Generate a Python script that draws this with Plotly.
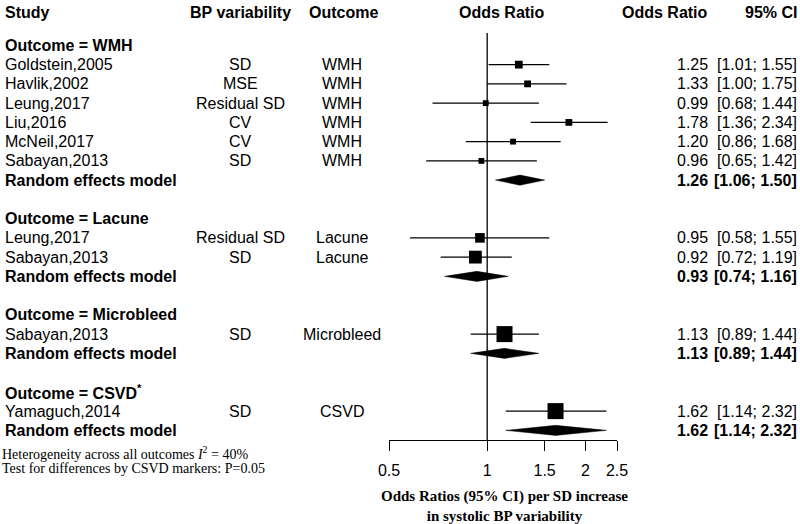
import math
import plotly.graph_objects as go

# ---------------- data ----------------
groups = ["WMH", "Lacune", "Microbleed", "CSVD"]
group_labels = ["Outcome = WMH", "Outcome = Lacune", "Outcome = Microbleed", "Outcome = CSVD<sup>*</sup>"]
study_group = ["WMH"] * 6 + ["Lacune"] * 2 + ["Microbleed"] + ["CSVD"]
studies = ["Goldstein,2005", "Havlik,2002", "Leung,2017", "Liu,2016", "McNeil,2017",
           "Sabayan,2013", "Leung,2017", "Sabayan,2013", "Sabayan,2013", "Yamaguch,2014"]
bp_var = ["SD", "MSE", "Residual SD", "CV", "CV", "SD", "Residual SD", "SD", "SD", "SD"]
outcome = ["WMH"] * 6 + ["Lacune"] * 2 + ["Microbleed"] + ["CSVD"]
or_est = [1.25, 1.33, 0.99, 1.78, 1.20, 0.96, 0.95, 0.92, 1.13, 1.62]
ci_lo = [1.01, 1.00, 0.68, 1.36, 0.86, 0.65, 0.58, 0.72, 0.89, 1.14]
ci_hi = [1.55, 1.75, 1.44, 2.34, 1.68, 1.42, 1.55, 1.19, 1.44, 2.32]
weights = [23.7, 18.1, 13.3, 18.1, 13.3, 13.3, 36.0, 64.0, 100.0, 100.0]  # within-group weight (%)
pooled_est = [1.26, 0.93, 1.13, 1.62]
pooled_lo = [1.06, 0.74, 0.89, 1.14]
pooled_hi = [1.50, 1.16, 1.44, 2.32]
tick_vals = [0.5, 1, 1.5, 2, 2.5]
tick_text = ["0.5", "1", "1.5", "2", "2.5"]
heterogeneity = "Heterogeneity across all outcomes <i>I</i><sup>2</sup> = 40%"
test_text = "Test for differences by CSVD markers: P=0.05"
x_title = "<b>Odds Ratios (95% CI) per SD increase<br>in systolic BP variability</b>"

# ---------------- row layout ----------------
ROW_PX = 19.25
TOP_OFF = 2.357
W = 800.0
PLOT_H = 440.0

def row_of_px(py):
    return py / ROW_PX - TOP_OFF

def px(x):
    return x / W

def py_paper(py):
    return 1 - py / PLOT_H

rows_study, rows_header, rows_pool = [], [], []
r = 0
for g in groups:
    rows_header.append(r)
    r += 1
    for i, sg in enumerate(study_group):
        if sg == g:
            rows_study.append(r)
            r += 1
    rows_pool.append(r)
    r += 2

SANS = "Liberation Sans, Arial, sans-serif"
SERIF = "Liberation Serif, Times New Roman, serif"
F = dict(family=SANS, size=16, color="black")

fig = go.Figure()

# reference line at OR = 1
fig.add_trace(go.Scatter(x=[1, 1], y=[row_of_px(33), rows_pool[-1] + 0.5], mode="lines",
                         line=dict(color="black", width=1.3), hoverinfo="skip", showlegend=False))

# CI lines
for i in range(len(studies)):
    fig.add_trace(go.Scatter(x=[ci_lo[i], ci_hi[i]], y=[rows_study[i]] * 2, mode="lines",
                             line=dict(color="black", width=1.3), hoverinfo="skip", showlegend=False))

# study squares
fig.add_trace(go.Scatter(x=or_est, y=rows_study, mode="markers",
                         marker=dict(symbol="square", color="black", opacity=1,
                                     size=[1.6 * math.sqrt(w) for w in weights],
                                     line=dict(width=0)),
                         hoverinfo="skip", showlegend=False))

# pooled diamonds
H = 0.26
for k in range(len(groups)):
    yr = rows_pool[k]
    fig.add_trace(go.Scatter(x=[pooled_lo[k], pooled_est[k], pooled_hi[k], pooled_est[k], pooled_lo[k]],
                             y=[yr, yr - H, yr, yr + H, yr], mode="lines", fill="toself",
                             fillcolor="black", line=dict(color="black", width=0.5),
                             hoverinfo="skip", showlegend=False))

ann = []
def add(text, x, y, xanchor="left", font=F, yref="y"):
    ann.append(dict(text=text, x=x, y=y, xref="paper", yref=yref, xanchor=xanchor,
                    yanchor="middle", showarrow=False, font=font))

hdr_y = row_of_px(12)
add("<b>Study</b>", px(3), hdr_y)
add("<b>BP variability</b>", px(240), hdr_y, "center")
add("<b>Outcome</b>", px(343), hdr_y, "center")
add("<b>Odds Ratio</b>", px(502), hdr_y, "center")
add("<b>Odds Ratio</b>", px(710), hdr_y, "right")
add("<b>95% CI</b>", px(799), hdr_y, "right")

for k, g in enumerate(groups):
    add("<b>" + group_labels[k] + "</b>", px(3), rows_header[k])
    add("<b>Random effects model</b>", px(3), rows_pool[k])
    add("<b>%.2f</b>" % pooled_est[k], px(710), rows_pool[k], "right")
    add("<b>[%.2f; %.2f]</b>" % (pooled_lo[k], pooled_hi[k]), px(799), rows_pool[k], "right")

for i in range(len(studies)):
    yr = rows_study[i]
    add(studies[i], px(3), yr)
    add(bp_var[i], px(240), yr, "center")
    add(outcome[i], px(342), yr, "center")
    add("%.2f" % or_est[i], px(710), yr, "right")
    add("[%.2f; %.2f]" % (ci_lo[i], ci_hi[i]), px(799), yr, "right")

SF = dict(family=SERIF, size=14, color="black")
add(heterogeneity, px(0), py_paper(453), font=SF, yref="paper")
add(test_text, px(0), py_paper(468), font=SF, yref="paper")
add(x_title, px(504), py_paper(506), "center",
    font=dict(family=SERIF, size=15, color="black"), yref="paper")

fig.update_layout(
    width=800, height=524,
    margin=dict(l=0, r=0, t=0, b=84, pad=0, autoexpand=False),
    paper_bgcolor="white", plot_bgcolor="white",
    annotations=ann,
    xaxis=dict(type="log", domain=[389 / W, 617 / W],
               range=[math.log10(0.5), math.log10(2.5)],
               showline=True, linecolor="black", linewidth=1,
               ticks="outside", ticklen=10, tickwidth=1, tickcolor="black",
               tickvals=tick_vals, ticktext=tick_text,
               tickfont=dict(family=SANS, size=16, color="black"),
               ticklabelstandoff=6, automargin=False,
               showgrid=False, zeroline=False, fixedrange=True),
    yaxis=dict(range=[rows_pool[-1] + 0.5, row_of_px(0)], visible=False,
               showgrid=False, zeroline=False, fixedrange=True, automargin=False),
    showlegend=False,
)

fig.write_html("out.html", config={"displayModeBar": False},
               post_script="document.body.style.margin='0';document.body.style.overflow='hidden';")
